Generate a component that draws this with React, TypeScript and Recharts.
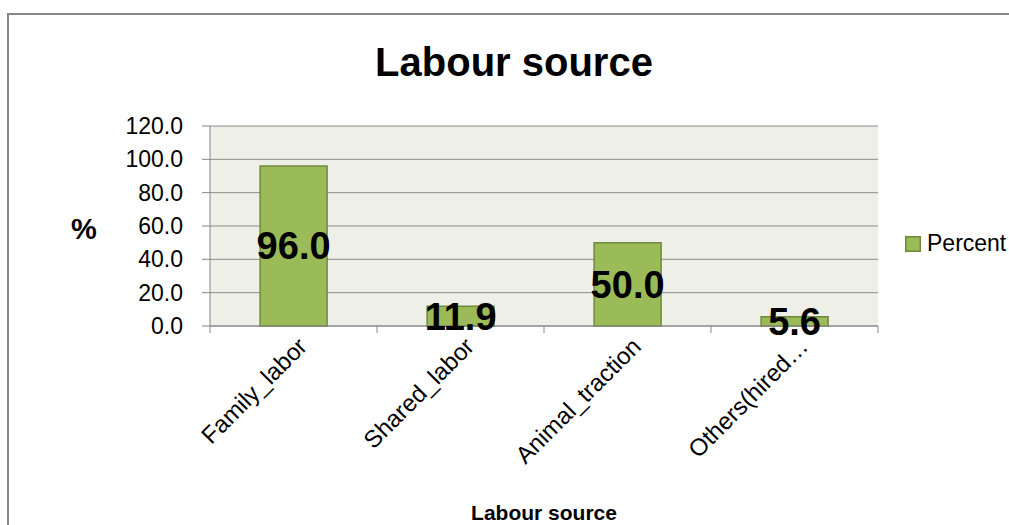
import React from "react";
import { BarChart, Bar, XAxis, YAxis, CartesianGrid, LabelList, Legend } from "recharts";

const categories = ["Family_labor", "Shared_labor", "Animal_traction", "Others(hired…"];
const percentValues = [96.0, 11.9, 50.0, 5.6];
const yTicks = [0, 20, 40, 60, 80, 100, 120];
const seriesName = "Percent";
const chartTitle = "Labour source";
const xTitle = "Labour source";
const yTitle = "%";

const data = categories.map((c, i) => ({ name: c, value: percentValues[i] }));

const W = 1009;
const H = 525;
const PLOT_LEFT = 210;
const PLOT_RIGHT = 878;
const PLOT_TOP = 126;
const PLOT_BOTTOM = 326;
const Y_AXIS_W = 60;
const X_AXIS_H = 190;
const BAND = (PLOT_RIGHT - PLOT_LEFT) / categories.length;
const FONT = "'Liberation Sans', Arial, sans-serif";
const AXIS_COLOR = "#868686";
const GREEN = "#9BBB59";
const GREEN_DARK = "#71893F";

function XTick(props: any) {
  const { x, y, payload, index } = props;
  const ax = x + 15;
  const ay = y + 22;
  return (
    <g>
      <line x1={x - BAND / 2} y1={y} x2={x - BAND / 2} y2={y + 7} stroke={AXIS_COLOR} />
      {index === categories.length - 1 && (
        <line x1={x + BAND / 2} y1={y} x2={x + BAND / 2} y2={y + 7} stroke={AXIS_COLOR} />
      )}
      <text
        x={ax}
        y={ay}
        transform={`rotate(-45 ${ax} ${ay})`}
        textAnchor="end"
        fontFamily={FONT}
        fontSize={24}
        fill="#000"
      >
        {payload.value}
      </text>
    </g>
  );
}

function LegendContent() {
  return (
    <div style={{ display: "flex", alignItems: "center", fontFamily: FONT, fontSize: 23, color: "#000", whiteSpace: "nowrap" }}>
      <svg width={16} height={16} style={{ marginRight: 6 }}>
        <rect x={0.75} y={0.75} width={14.5} height={14.5} fill={GREEN} stroke={GREEN_DARK} strokeWidth={1.5} />
      </svg>
      <span>{seriesName}</span>
    </div>
  );
}

export default function App() {
  return (
    <div style={{ position: "absolute", left: 0, top: 0, width: W, height: H, background: "#fff", overflow: "hidden" }}>
      <div
        style={{
          position: "absolute",
          left: 7,
          top: 13,
          width: W,
          height: H,
          borderLeft: `2px solid ${AXIS_COLOR}`,
          borderTop: `2px solid ${AXIS_COLOR}`,
          boxSizing: "border-box",
        }}
      />
      <div
        style={{
          position: "absolute",
          left: 0,
          width: W,
          top: 40,
          textAlign: "center",
          fontFamily: FONT,
          fontWeight: "bold",
          fontSize: 40,
          color: "#000",
          paddingLeft: 19,
          boxSizing: "border-box",
        }}
      >
        {chartTitle}
      </div>
      <div
        style={{
          position: "absolute",
          left: 71,
          top: 213,
          fontFamily: FONT,
          fontWeight: "bold",
          fontSize: 29,
          color: "#000",
        }}
      >
        {yTitle}
      </div>
      <div style={{ position: "absolute", left: 0, top: 0 }}>
        <BarChart
          width={W}
          height={H}
          data={data}
          margin={{
            left: PLOT_LEFT - Y_AXIS_W,
            right: W - PLOT_RIGHT,
            top: PLOT_TOP,
            bottom: H - PLOT_BOTTOM - X_AXIS_H,
          }}
          barCategoryGap="30%"
        >
          <CartesianGrid vertical={false} stroke="#8C8C8C" fill="#EEF0E8" />
          <XAxis
            dataKey="name"
            height={X_AXIS_H}
            interval={0}
            tickLine={false}
            tickSize={0}
            tickMargin={0}
            axisLine={{ stroke: AXIS_COLOR }}
            tick={<XTick />}
            label={{
              value: xTitle,
              position: "insideBottom",
              offset: -4,
              style: { fontFamily: FONT, fontWeight: "bold", fontSize: 21, fill: "#000" },
            }}
          />
          <YAxis
            width={Y_AXIS_W}
            domain={[0, 120]}
            ticks={yTicks}
            interval={0}
            tickSize={8}
            tickMargin={19}
            tickLine={{ stroke: AXIS_COLOR }}
            axisLine={{ stroke: AXIS_COLOR }}
            tickFormatter={(v: number) => v.toFixed(1)}
            tick={{ fontFamily: FONT, fontSize: 23, fill: "#000" }}
          />
          <Legend
            layout="horizontal"
            verticalAlign="middle"
            align="center"
            wrapperStyle={{ left: 905, top: 230, width: 130 }}
            content={<LegendContent />}
          />
          <Bar dataKey="value" name={seriesName} fill={GREEN} stroke={GREEN_DARK} strokeWidth={1.5} isAnimationActive={false}>
            <LabelList
              dataKey="value"
              position="center"
              formatter={(v: any) => Number(v).toFixed(1)}
              style={{ fontFamily: FONT, fontWeight: "bold", fontSize: 38, fill: "#000" }}
            />
          </Bar>
        </BarChart>
      </div>
    </div>
  );
}
